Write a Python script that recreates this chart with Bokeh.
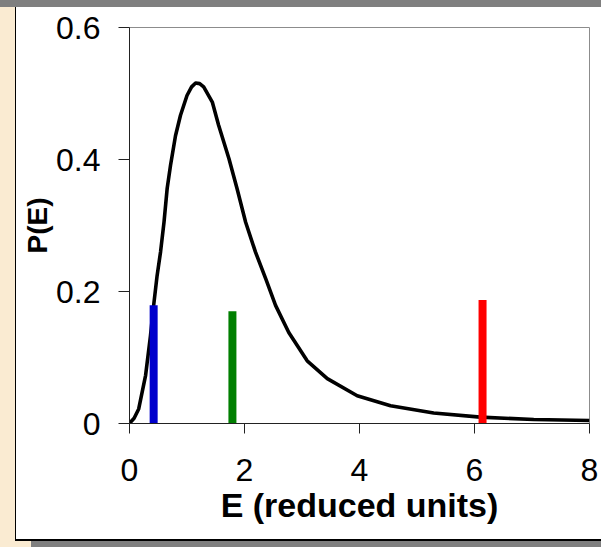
from bokeh.plotting import figure
from bokeh.models import Range1d, FixedTicker, ColumnDataSource
from bokeh.embed import file_html
from bokeh.resources import INLINE

# Curve P(E)
energy = [0, 0.017, 0.08, 0.16, 0.28, 0.365, 0.42, 0.48, 0.54, 0.60, 0.655,
          0.713, 0.80, 0.887, 1.0, 1.08, 1.15, 1.22, 1.29, 1.44, 1.55, 1.73,
          1.87, 2.02, 2.19, 2.37, 2.54, 2.77, 3.09, 3.44, 3.96, 4.54, 5.29,
          6.10, 7.03, 8.0]
prob = [0, 0.002, 0.008, 0.022, 0.073, 0.133, 0.179, 0.224, 0.26, 0.305,
        0.356, 0.391, 0.436, 0.467, 0.497, 0.510, 0.516, 0.515, 0.510, 0.487,
        0.452, 0.401, 0.356, 0.305, 0.26, 0.219, 0.179, 0.138, 0.095, 0.068,
        0.042, 0.027, 0.016, 0.0096, 0.006, 0.0045]

# Marker bars
bar_e = [0.42, 1.79, 6.14]
bar_top = [0.179, 0.170, 0.187]
bar_bottom = [-0.005, -0.005, -0.005]
bar_colors = ["#0000CC", "#007F00", "#FF0000"]

x_ticks = [0, 2, 4, 6, 8]
y_ticks = [0, 0.2, 0.4, 0.6]
y_tick_labels = {0: "0", 0.2: "0.2", 0.4: "0.4", 0.6: "0.6"}

PARCH = "#FAEBD2"
GREY = "#7f7f7f"
shadows = ", ".join([
    "0 2px 0 0 black",
    "-1px 0 0 0 black",
    "-1px 2px 0 0 black",
    f"15px 8px 0 0 {GREY}",
    f"0 -7px 0 0 {GREY}",
    f"-16px 0 0 0 {PARCH}",
    f"-16px 8px 0 0 {PARCH}",
    f"-16px -7px 0 0 {GREY}",
])

p = figure(width=585, height=532, output_backend="svg", toolbar_location=None,
           x_range=Range1d(0, 8), y_range=Range1d(0, 0.6))
p.min_border = None
p.min_border_left = 113
p.min_border_right = 12
p.min_border_top = 20
p.min_border_bottom = 116
p.margin = (7, 0, 0, 16)
p.styles = {"box-shadow": shadows}

p.background_fill_color = "white"
p.border_fill_color = "white"
p.outline_line_color = "#8c8c8c"
p.outline_line_width = 1
p.xgrid.visible = False
p.ygrid.visible = False

FONT = "Liberation Sans"
for ax in (p.xaxis[0], p.yaxis[0]):
    ax.axis_line_color = "#222222"
    ax.major_tick_line_color = "#222222"
    ax.minor_tick_line_color = None
    ax.major_tick_in = 0
    ax.major_label_text_font = FONT
    ax.major_label_text_font_size = "32px"
    ax.major_label_text_color = "black"
    ax.axis_label_text_font = FONT
    ax.axis_label_text_font_style = "bold"
    ax.axis_label_text_color = "black"

p.xaxis.ticker = FixedTicker(ticks=x_ticks)
p.yaxis.ticker = FixedTicker(ticks=y_ticks)
p.yaxis.major_label_overrides = y_tick_labels
p.xaxis.major_tick_out = 10
p.yaxis.major_tick_out = 11
p.xaxis.major_label_standoff = 25
p.yaxis.major_label_standoff = 18
p.xaxis.axis_label = "E (reduced units)"
p.yaxis.axis_label = "P(E)"
p.xaxis.axis_label_text_font_size = "34px"
p.yaxis.axis_label_text_font_size = "28px"
p.xaxis.axis_label_standoff = 2
p.yaxis.axis_label_standoff = 0

p.line(energy, prob, line_color="black", line_width=3.6, line_join="round")
src = ColumnDataSource(dict(x=bar_e, y0=bar_bottom, y1=bar_top, c=bar_colors))
p.segment(x0="x", y0="y0", x1="x", y1="y1", color="c", line_width=8,
          line_cap="butt", source=src)

open("out.html", "w").write(file_html(p, INLINE))
